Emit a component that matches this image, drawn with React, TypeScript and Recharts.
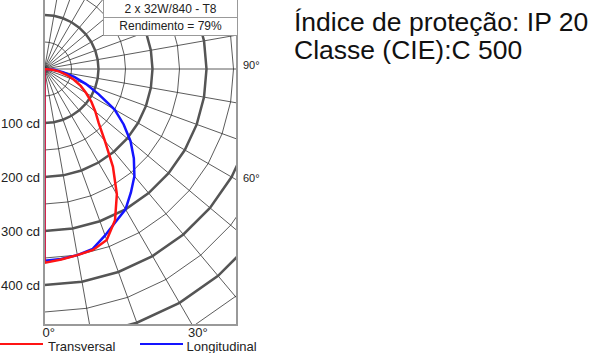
import { RadarChart, Radar, PolarGrid, PolarAngleAxis, PolarRadiusAxis } from "recharts";

// photometric curve, cd per 1000 lm, every 5 degrees (0 = down, 90 = horizontal)
const ANGLES = [0, 5, 10, 15, 20, 25, 30, 35, 40, 45, 50, 55, 60, 65, 70, 75, 80, 85, 90, 95];
const TRANSVERSAL = [359, 354, 350, 347, 337, 309, 268, 221, 174, 142, 123, 106, 89, 74, 58, 43, 28, 14, 0, null];
const LONGITUDINAL = [355, 353, 350, 345, 328, 312, 300, 279, 259, 234, 208, 179, 150, 111, 82, 57, 36, 18, 0, null];

const CD_LABELS = [100, 200, 300, 400];
const R_MAX = 600;
const OUTER = 324;
const CX = 44.5;
const CY = 69;

const LAMP = "2 x 32W/840 - T8";
const EFFICIENCY = "Rendimento = 79%";
const INFO = ["Índice de proteção: IP 20", "Classe (CIE):C 500"];

const data = ANGLES.map((angle, i) => ({
  angle,
  transversal: TRANSVERSAL[i],
  longitudinal: LONGITUDINAL[i],
}));

const CdTick = ({ x, y, payload }: any) =>
  CD_LABELS.includes(payload.value) ? (
    <text x={x - 4.5} y={y} dy="0.36em" textAnchor="end" fontSize={13} fill="#222">
      {payload.value} cd
    </text>
  ) : (
    <g />
  );

const label = (text: string, left: number, top: number, size: number) => (
  <div style={{ position: "absolute", left, top, fontSize: size, lineHeight: `${size}px`, color: "#222", whiteSpace: "nowrap" }}>
    {text}
  </div>
);

const App = () => (
  <div style={{ position: "absolute", left: 0, top: 0, width: 590, height: 353, background: "#fff", fontFamily: "'Liberation Sans', Arial, sans-serif", overflow: "hidden" }}>
    {/* cd labels along the 0 degree axis */}
    <div style={{ position: "absolute", left: 0, top: 0 }}>
      <RadarChart width={240} height={353} data={data} cx={CX} cy={CY} outerRadius={OUTER} startAngle={-90} endAngle={270} margin={{ top: 0, right: 0, bottom: 0, left: 0 }}>
        <PolarAngleAxis type="number" dataKey="angle" domain={[0, 360]} tick={false} axisLine={false} />
        <PolarRadiusAxis angle={-90} domain={[0, R_MAX]} tickCount={7} axisLine={false} tickLine={false} tick={CdTick} />
        <Radar dataKey="transversal" stroke="none" fill="none" isAnimationActive={false} />
      </RadarChart>
    </div>

    {/* grid + curves, clipped to the frame */}
    <div style={{ position: "absolute", left: 44, top: 0, width: 193, height: 325, overflow: "hidden" }}>
      <RadarChart width={193} height={325} data={data} cx={CX - 44} cy={CY} outerRadius={OUTER} startAngle={-90} endAngle={270} margin={{ top: 0, right: 0, bottom: 0, left: 0 }}>
        <PolarAngleAxis type="number" dataKey="angle" domain={[0, 360]} tickCount={37} tick={false} axisLine={false} tickLine={false} />
        <PolarRadiusAxis radiusAxisId="thin" domain={[0, R_MAX]} tickCount={13} tick={false} axisLine={false} tickLine={false} />
        <PolarRadiusAxis radiusAxisId="thick" domain={[0, R_MAX]} tickCount={7} tick={false} axisLine={false} tickLine={false} />
        <PolarGrid radiusAxisId="thin" gridType="polygon" stroke="#262626" strokeWidth={0.75} />
        <PolarGrid radiusAxisId="thick" gridType="polygon" radialLines={false} stroke="#555" strokeWidth={2.5} />
        <Radar dataKey="transversal" radiusAxisId="thick" stroke="none" fill="none" isAnimationActive={false} />
        <Radar name="Longitudinal" dataKey="longitudinal" radiusAxisId="thin" stroke="#1414ff" strokeWidth={2.5} fill="none" isAnimationActive={false} />
        <Radar name="Transversal" dataKey="transversal" radiusAxisId="thin" stroke="#ff1414" strokeWidth={2.5} fill="none" isAnimationActive={false} />
      </RadarChart>
    </div>

    {/* frame */}
    <div style={{ position: "absolute", left: 43, top: -2, width: 195, height: 328, boxSizing: "border-box", border: "2px solid #999" }} />

    {/* lamp table */}
    <div style={{ position: "absolute", left: 103, top: -1, width: 135, boxSizing: "border-box", border: "1.5px solid #999", background: "#fff", fontSize: 12, color: "#222", textAlign: "center" }}>
      <div style={{ height: 17, lineHeight: "18px" }}>{LAMP}</div>
      <div style={{ height: 17, lineHeight: "17px", borderTop: "1.5px solid #999" }}>{EFFICIENCY}</div>
    </div>

    {label("90°", 243, 60, 11)}
    {label("60°", 243, 172.6, 11)}
    {label("0°", 42.5, 326, 13)}
    {label("30°", 188, 326, 13)}

    {/* legend */}
    <div style={{ position: "absolute", left: 0, top: 343, width: 43, height: 2, background: "#ff1414" }} />
    {label("Transversal", 48, 340, 13)}
    <div style={{ position: "absolute", left: 140, top: 343, width: 43, height: 2, background: "#1414ff" }} />
    {label("Longitudinal", 186.5, 340, 13)}

    <div style={{ position: "absolute", left: 294, top: 8, fontSize: 26.5, lineHeight: "28px", color: "#111", whiteSpace: "nowrap" }}>
      {INFO.map((t) => (
        <div key={t}>{t}</div>
      ))}
    </div>
  </div>
);

export default App;
